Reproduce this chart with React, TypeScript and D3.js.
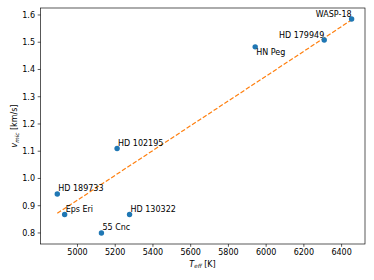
import * as d3 from 'd3';

const stars = ['WASP-18', 'HD 179949', 'HN Peg', 'HD 102195', 'HD 189733', 'Eps Eri', 'HD 130322', '55 Cnc'];
const teff = [6453, 6308, 5942, 5210, 4893, 4932, 5276, 5127];
const vmic = [1.585, 1.508, 1.483, 1.11, 0.943, 0.868, 0.868, 0.8];

const fitTeff = [4893, 6453];
const fitVmic = [0.872, 1.582];

const xTicks = [5000, 5200, 5400, 5600, 5800, 6000, 6200, 6400];
const yTicks = [0.8, 0.9, 1.0, 1.1, 1.2, 1.3, 1.4, 1.5, 1.6];

const labelBelow = ['HN Peg'];
const labelLeft = ['WASP-18', 'HD 179949'];

export default function App() {
  const width = 374;
  const height = 280;
  const margin = { top: 8, right: 9, bottom: 36, left: 40.5 };
  const font = 'DejaVu Sans, sans-serif';

  const x = d3.scaleLinear().domain([4804, 6524]).range([margin.left, width - margin.right]);
  const y = d3.scaleLinear().domain([0.7595, 1.6256]).range([height - margin.bottom, margin.top]);

  const line = d3
    .line<number>()
    .x((_, i) => x(fitTeff[i]))
    .y((d) => y(d));

  const bottom = height - margin.bottom;

  return (
    <svg width={width} height={height} style={{ position: 'absolute', left: 0, top: 0, background: '#fff' }}>
      {/* fit */}
      <path d={line(fitVmic) || ''} fill="none" stroke="#ff7f0e" strokeWidth={1.2} strokeDasharray="4.5,1.95" />

      {/* points */}
      {stars.map((s, i) => (
        <circle key={s} cx={x(teff[i])} cy={y(vmic[i])} r={2.7} fill="#1f77b4" />
      ))}

      {/* labels */}
      {stars.map((s, i) => {
        const left = labelLeft.includes(s);
        const below = labelBelow.includes(s);
        return (
          <text
            key={'l' + s}
            x={x(teff[i]) + (left ? 0 : 1)}
            y={y(vmic[i]) + (below ? 8 : -2.5)}
            textAnchor={left ? 'end' : 'start'}
            fontFamily={font}
            fontSize={8}
            fill="#000"
          >
            {s}
          </text>
        );
      })}

      {/* frame */}
      <rect
        x={margin.left}
        y={margin.top}
        width={width - margin.left - margin.right}
        height={height - margin.top - margin.bottom}
        fill="none"
        stroke="#000"
        strokeWidth={0.65}
      />

      {/* x ticks */}
      {xTicks.map((t) => (
        <g key={'x' + t}>
          <line x1={x(t)} x2={x(t)} y1={bottom} y2={bottom + 2.8} stroke="#000" strokeWidth={0.65} />
          <text x={x(t)} y={bottom + 11} textAnchor="middle" fontFamily={font} fontSize={8} fill="#000">
            {t}
          </text>
        </g>
      ))}

      {/* y ticks */}
      {yTicks.map((t) => (
        <g key={'y' + t}>
          <line x1={margin.left - 2.8} x2={margin.left} y1={y(t)} y2={y(t)} stroke="#000" strokeWidth={0.65} />
          <text
            x={margin.left - 5.5}
            y={y(t)}
            dy="0.35em"
            textAnchor="end"
            fontFamily={font}
            fontSize={8}
            fill="#000"
          >
            {t.toFixed(1)}
          </text>
        </g>
      ))}

      {/* axis labels */}
      <text x={202.5} y={266.5} textAnchor="middle" fontFamily={font} fontSize={8} fill="#000">
        <tspan fontStyle="italic">T</tspan>
        <tspan fontStyle="italic" fontSize={5.6} dy={1.6}>eff</tspan>
        <tspan dy={-1.6}> [K]</tspan>
      </text>
      <text
        transform={`translate(17,${(margin.top + bottom) / 2}) rotate(-90)`}
        textAnchor="middle"
        fontFamily={font}
        fontSize={8}
        fill="#000"
      >
        <tspan fontStyle="italic">v</tspan>
        <tspan fontStyle="italic" fontSize={5.6} dy={1.6}>mic</tspan>
        <tspan dy={-1.6}> [km/s]</tspan>
      </text>
    </svg>
  );
}
